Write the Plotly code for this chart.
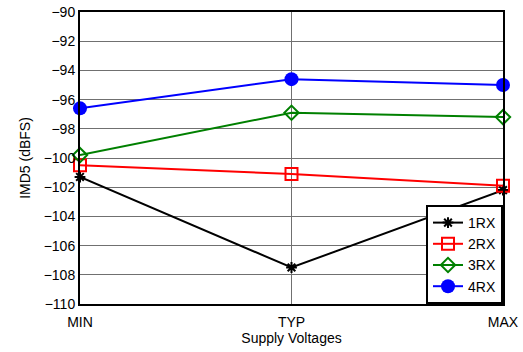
import plotly.graph_objects as go

categories = ["MIN", "TYP", "MAX"]
x_pos = [0, 1, 2]
rx1 = [-101.3, -107.5, -102.2]
rx2 = [-100.5, -101.1, -101.9]
rx3 = [-99.8, -96.9, -97.2]
rx4 = [-96.6, -94.6, -95.0]
y_ticks = list(range(-110, -89, 2))

fig = go.Figure()
series = [
    ("1RX", rx1, "black", dict(symbol="asterisk", size=9, line=dict(color="black", width=2))),
    ("2RX", rx2, "red", dict(symbol="square-open", size=12, color="red", line=dict(width=2))),
    ("3RX", rx3, "green", dict(symbol="diamond-open", size=11, color="green", line=dict(width=2))),
    ("4RX", rx4, "blue", dict(symbol="circle", size=14, color="blue")),
]
for name, ys, col, mk in series:
    fig.add_trace(go.Scatter(x=x_pos, y=ys, mode="lines+markers", name=name,
                             line=dict(color=col, width=2), marker=mk, cliponaxis=False))

fig.update_layout(
    width=523, height=352,
    margin=dict(l=80, r=20, t=12, b=48, autoexpand=False),
    paper_bgcolor="white", plot_bgcolor="white",
    font=dict(family="Liberation Sans, Arial", size=14, color="black"),
    showlegend=True,
    legend=dict(x=1, y=0, xanchor="right", yanchor="bottom",
                bordercolor="black", borderwidth=2, bgcolor="white",
                font=dict(size=14), itemwidth=30, tracegroupgap=0),
)
fig.update_xaxes(range=[0, 2], tickvals=x_pos, ticktext=categories,
                 showgrid=True, gridcolor="#707070", gridwidth=1,
                 showline=True, linecolor="black", linewidth=2, mirror=True,
                 ticks="", zeroline=False, automargin=False, ticklabelstandoff=4,
                 title=dict(text="Supply Voltages", standoff=4, font=dict(size=14)))
fig.update_yaxes(range=[-110, -90], tickvals=y_ticks,
                 showgrid=True, gridcolor="#707070", gridwidth=1,
                 showline=True, linecolor="black", linewidth=2, mirror=True,
                 ticks="", zeroline=False, automargin=False,
                 title=dict(text="IMD5 (dBFS)", standoff=10, font=dict(size=14)))

fig.write_html("out.html", config={"displayModeBar": False},
               post_script="document.body.style.margin='0';document.body.style.overflow='hidden';")
